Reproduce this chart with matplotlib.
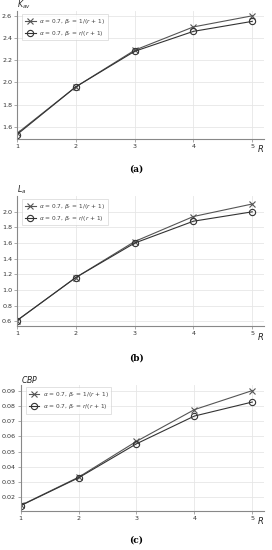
import matplotlib.pyplot as plt
import numpy as np

R = [1, 2, 3, 4, 5]

# (a) K_av
kav_inv = [1.54, 1.96, 2.29, 2.50, 2.60]
kav_lin = [1.53, 1.96, 2.28, 2.46, 2.55]
# (b) L_a
la_inv = [0.61, 1.16, 1.62, 1.94, 2.10]
la_lin = [0.61, 1.16, 1.60, 1.88, 2.00]
# (c) CBP
cbp_inv = [0.0147, 0.0332, 0.0567, 0.0775, 0.0900]
cbp_lin = [0.0145, 0.0328, 0.0551, 0.0733, 0.0825]

lab_inv = r'$\alpha$ = 0.7, $\beta_r$ = 1/($r$ + 1)'
lab_lin = r'$\alpha$ = 0.7, $\beta_r$ = $r$/($r$ + 1)'

plt.rcParams['mathtext.fontset'] = 'dejavusans'

fig = plt.figure(figsize=(2.72, 5.50), dpi=100)

panels = [
    # rect, y data, ylabel, ylim, yticks, caption, caption y
    ([0.0625, 0.7473, 0.908, 0.232], kav_inv, kav_lin, r'$K_{av}$', (1.49, 2.64),
     [1.6, 1.8, 2.0, 2.2, 2.4, 2.6], '%.1f', '(a)', 0.693),
    ([0.0625, 0.4073, 0.908, 0.236], la_inv, la_lin, r'$L_a$', (0.54, 2.2),
     [0.6, 0.8, 1.0, 1.2, 1.4, 1.6, 1.8, 2.0], '%.1f', '(b)', 0.349),
    ([0.076, 0.0709, 0.894, 0.23], cbp_inv, cbp_lin, r'$CBP$', (0.011, 0.094),
     [0.02, 0.03, 0.04, 0.05, 0.06, 0.07, 0.08, 0.09], '%.2f', '(c)', 0.018),
]

for rect, y1, y2, ylab, ylim, yt, fmt, cap, capy in panels:
    ax = fig.add_axes(rect)
    ax.plot(R, y1, color='#555555', lw=0.8, marker='x', ms=4.5, mew=0.8,
            label=lab_inv)
    ax.plot(R, y2, color='#333333', lw=0.8, marker='o', ms=4.5, mew=0.8,
            mfc='none', label=lab_lin)
    ax.set_xlim(1, 5.2)
    ax.set_ylim(*ylim)
    ax.set_xticks(R)
    ax.set_yticks(yt)
    ax.set_yticklabels([fmt % v for v in yt])
    ax.grid(True, color='#e6e6e6', lw=0.6)
    ax.set_axisbelow(True)
    for s in ['top', 'right']:
        ax.spines[s].set_visible(False)
    for s in ['left', 'bottom']:
        ax.spines[s].set_color('#888888')
        ax.spines[s].set_linewidth(0.8)
    ax.tick_params(labelsize=4.6, length=2, width=0.5, colors='#888888',
                   labelcolor='#333333', pad=1.5)
    ax.text(0.0, 1.0, ylab, transform=ax.transAxes, fontsize=5.6, ha='left',
            va='bottom', color='#222222')
    ax.text(1.0, -0.035, r'$R$', transform=ax.transAxes, fontsize=6,
            ha='right', va='top', color='#222222')
    leg = ax.legend(loc='upper left', fontsize=4.2, frameon=True,
                    fancybox=False, edgecolor='#cccccc', handlelength=1.8,
                    handletextpad=0.6, borderpad=0.45, labelspacing=0.5,
                    bbox_to_anchor=(0.01, 1.0))
    leg.get_frame().set_linewidth(0.5)
    for t in leg.get_texts():
        t.set_color('#444444')
    fig.text(0.5, capy, cap, fontsize=6.5, ha='center', va='center',
             fontweight='bold', family='DejaVu Serif')

fig.savefig('out.png', dpi=100)
